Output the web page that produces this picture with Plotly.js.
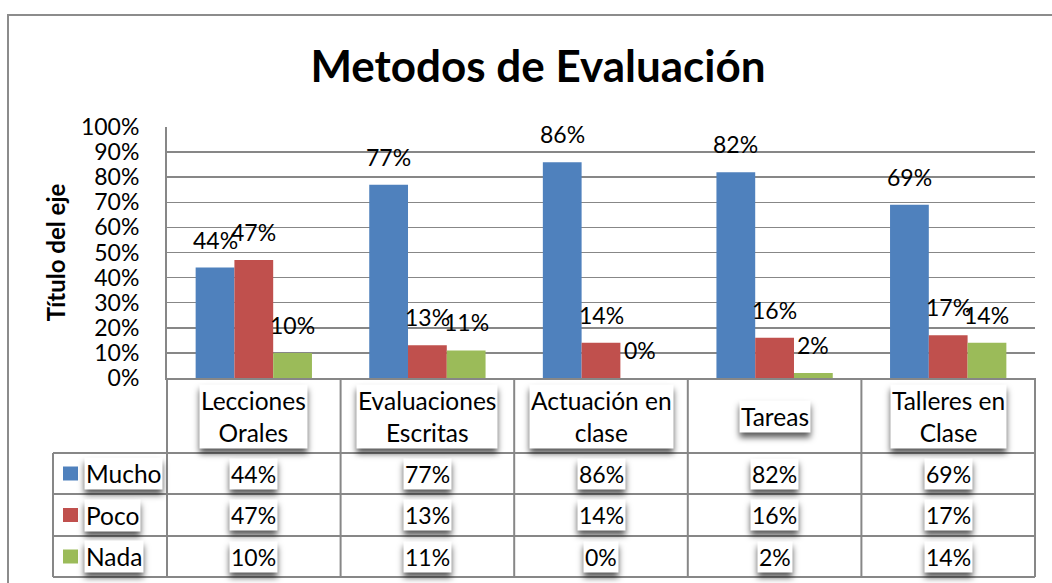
<!DOCTYPE html>
<html>
<head>
<meta charset="utf-8">
<script src="https://cdn.plot.ly/plotly-3.0.1.min.js"></script>
<style>
  html, body { margin: 0; padding: 0; background: #fff; }
  #chart { width: 1052px; height: 583px; }
  g.annotation rect.bg { filter: drop-shadow(0px 5px 3px rgba(0,0,0,0.65)); }
</style>
</head>
<body>
<div id="chart"></div>
<script>
// ---- data ----
const categories = ['Lecciones Orales', 'Evaluaciones Escritas', 'Actuación en clase', 'Tareas', 'Talleres en Clase'];
const headerLabels = ['Lecciones<br>Orales', 'Evaluaciones<br>Escritas', 'Actuación en<br>clase', 'Tareas', 'Talleres en<br>Clase'];
const seriesNames = ['Mucho', 'Poco', 'Nada'];
const mucho = [0.44, 0.77, 0.86, 0.82, 0.69];
const poco  = [0.47, 0.13, 0.14, 0.16, 0.17];
const nada  = [0.10, 0.11, 0.00, 0.02, 0.14];
const chartTitle = 'Metodos de Evaluación';
const yAxisTitle = 'Título del eje';

// ---- style ----
const colors = ['#4F81BD', '#C0504D', '#9BBB59'];
const FONT = 'Lato, "Open Sans", sans-serif';
const gridColor = '#878787';
const BARGAP = 0.33;
const NUM_SIZE = 23;
const WORD_SIZE = 24.5;
const seriesValues = [mucho, poco, nada];
const pct = v => Math.round(v * 100) + '%';

const traces = seriesValues.map((vals, k) => ({
  type: 'bar',
  name: seriesNames[k],
  x: categories,
  y: vals,
  marker: { color: colors[k], line: { width: 0 } },
  hoverinfo: 'skip'
}));

const annotations = [];
const shapes = [];
const barW = (1 - BARGAP) / seriesValues.length;

// bar value labels
seriesValues.forEach((vals, k) => {
  vals.forEach((v, i) => {
    annotations.push({
      xref: 'x', yref: 'y',
      x: i + (k - (seriesValues.length - 1) / 2) * barW,
      y: v, yanchor: 'bottom', xanchor: 'center', yshift: 12,
      text: pct(v), showarrow: false,
      font: { family: FONT, size: NUM_SIZE, color: '#000' }
    });
  });
});

// data table: header row (categories)
const headerShift = -38;
const rowShifts = [-95.5, -137, -178.5];
headerLabels.forEach((t, i) => {
  annotations.push({
    xref: 'x', yref: 'paper', x: i, y: 0, yshift: headerShift,
    xanchor: 'center', yanchor: 'middle',
    text: t, showarrow: false, bgcolor: '#ffffff', borderpad: 1,
    font: { family: FONT, size: WORD_SIZE, color: '#000' }
  });
});
// data table: value rows
seriesValues.forEach((vals, k) => {
  annotations.push({
    xref: 'paper', yref: 'paper', x: 0, y: 0, xshift: -83, yshift: rowShifts[k],
    xanchor: 'left', yanchor: 'middle',
    text: seriesNames[k], showarrow: false, bgcolor: '#ffffff', borderpad: 1,
    font: { family: FONT, size: WORD_SIZE, color: '#000' }
  });
  shapes.push({
    type: 'rect', xref: 'paper', yref: 'paper',
    xsizemode: 'pixel', ysizemode: 'pixel', xanchor: 0, yanchor: 0,
    x0: -104, x1: -89, y0: rowShifts[k] - 7, y1: rowShifts[k] + 7,
    fillcolor: colors[k], line: { width: 0 }
  });
  vals.forEach((v, i) => {
    annotations.push({
      xref: 'x', yref: 'paper', x: i, y: 0, yshift: rowShifts[k],
      xanchor: 'center', yanchor: 'middle',
      text: pct(v), showarrow: false, bgcolor: '#ffffff', borderpad: 1,
      font: { family: FONT, size: NUM_SIZE, color: '#000' }
    });
  });
});

// table grid lines
const lineStyle = { color: gridColor, width: 2 };
const tableBottom = -199;
const rowLines = [-75, -116, -158, -199];
rowLines.forEach(yy => {
  shapes.push({
    type: 'line', xref: 'paper', yref: 'paper',
    xsizemode: 'pixel', ysizemode: 'pixel', xanchor: 0, yanchor: 0,
    x0: -114, x1: 868, y0: yy, y1: yy, line: lineStyle
  });
});
for (let b = 0; b <= categories.length; b++) {
  shapes.push({
    type: 'line', xref: 'paper', yref: 'paper',
    ysizemode: 'pixel', yanchor: 0,
    x0: b / categories.length, x1: b / categories.length, y0: 0, y1: tableBottom,
    line: lineStyle
  });
}
shapes.push({
  type: 'line', xref: 'paper', yref: 'paper',
  xsizemode: 'pixel', ysizemode: 'pixel', xanchor: 0, yanchor: 0,
  x0: -114, x1: -114, y0: rowLines[0], y1: tableBottom, line: lineStyle
});
// outer chart frame
shapes.push({
  type: 'rect', xref: 'paper', yref: 'paper',
  xsizemode: 'pixel', ysizemode: 'pixel', xanchor: 0, yanchor: 0,
  x0: -159, x1: 900, y0: 363, y1: -220,
  line: { color: '#8c8c8c', width: 2 }, fillcolor: 'rgba(0,0,0,0)'
});

const layout = {
  width: 1052, height: 583,
  margin: { l: 167, r: 17, t: 127, b: 205 },
  paper_bgcolor: '#ffffff', plot_bgcolor: '#ffffff',
  showlegend: false,
  barmode: 'group', bargap: BARGAP, bargroupgap: 0,
  font: { family: FONT, size: 22, color: '#000' },
  title: {
    text: chartTitle, xref: 'container', yref: 'container',
    x: 0.5114, y: 0.886, xanchor: 'center', yanchor: 'middle',
    font: { family: FONT, size: 44, weight: 'bold', color: '#000' }
  },
  xaxis: {
    type: 'category', showticklabels: false, ticks: '',
    showline: true, linecolor: gridColor, linewidth: 2,
    showgrid: false, zeroline: false, fixedrange: true
  },
  yaxis: {
    range: [0, 1], dtick: 0.1, tickformat: '.0%',
    showgrid: true, gridcolor: gridColor, gridwidth: 1.5,
    showline: true, linecolor: gridColor, linewidth: 2,
    zeroline: false, ticks: '', ticklabelstandoff: 21,
    tickfont: { family: FONT, size: NUM_SIZE, color: '#000' },
    title: { text: yAxisTitle, standoff: 9, font: { family: FONT, size: 24, weight: 'bold', color: '#000' } },
    fixedrange: true
  },
  annotations: annotations,
  shapes: shapes
};

Plotly.newPlot('chart', traces, layout, { displayModeBar: false, staticPlot: true });
</script>
</body>
</html>
